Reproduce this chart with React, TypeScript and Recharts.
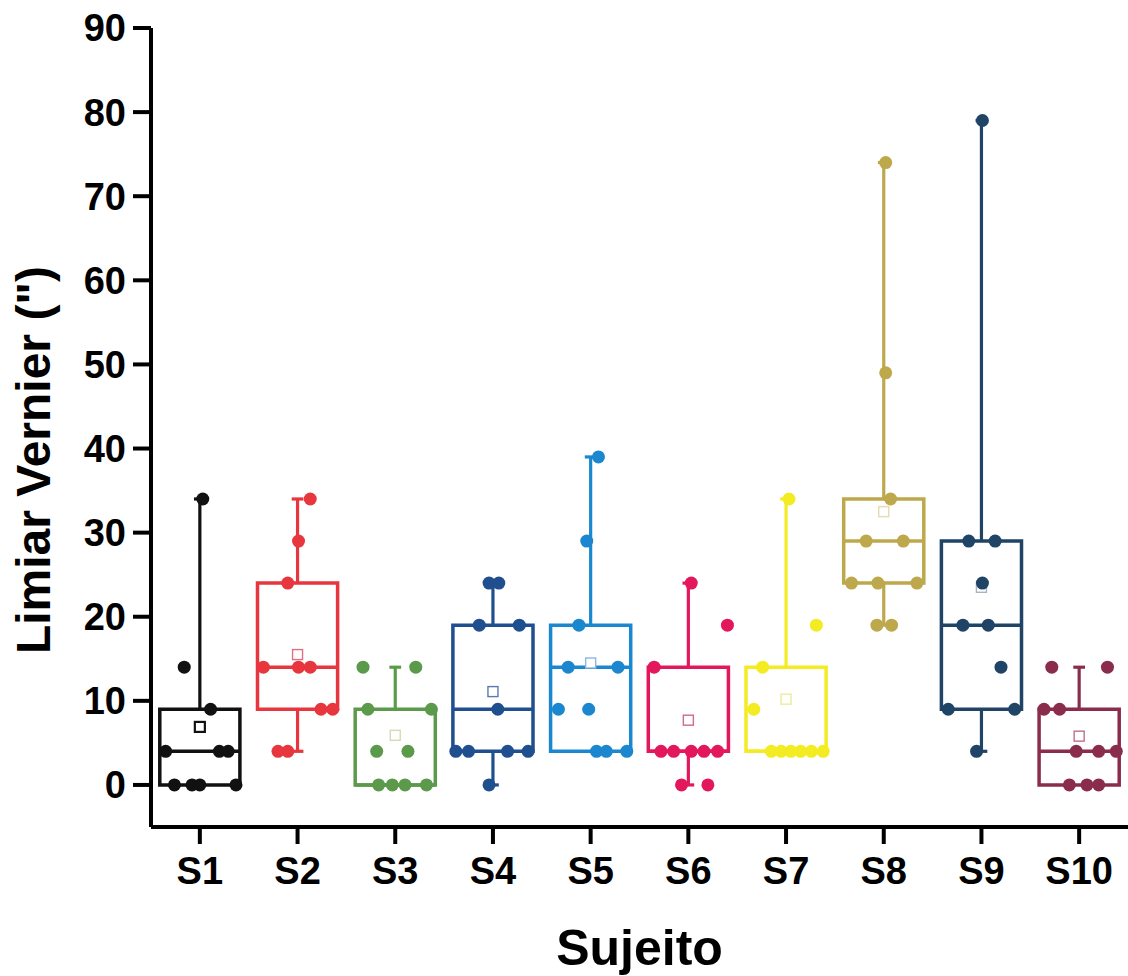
import React from "react";
import { ComposedChart, XAxis, YAxis, Scatter, ReferenceArea, ReferenceLine } from "recharts";

// sujeitos e limiares
const subjects = ["S1", "S2", "S3", "S4", "S5", "S6", "S7", "S8", "S9", "S10"];
const yTicks = [0, 10, 20, 30, 40, 50, 60, 70, 80, 90];

const s1Values = [34, 14, 9, 4, 4, 4, 0, 0, 0, 0];
const s1Jitter = [0.03, -0.16, 0.11, -0.35, 0.2, 0.29, -0.26, -0.08, 0.0, 0.37];
const s2Values = [34, 29, 24, 14, 14, 14, 9, 9, 4, 4];
const s2Jitter = [0.13, 0.01, -0.1, -0.35, 0.01, 0.13, 0.24, 0.36, -0.2, -0.1];
const s3Values = [14, 14, 9, 9, 4, 4, 0, 0, 0, 0];
const s3Jitter = [-0.33, 0.21, -0.28, 0.37, -0.19, 0.13, -0.17, -0.03, 0.1, 0.32];
const s4Values = [24, 24, 19, 19, 9, 4, 4, 4, 4, 0];
const s4Jitter = [-0.04, 0.06, -0.14, 0.27, 0.05, -0.38, -0.25, 0.15, 0.36, -0.04];
const s5Values = [39, 29, 19, 14, 14, 9, 9, 4, 4, 4];
const s5Jitter = [0.08, -0.04, -0.12, -0.23, 0.28, -0.33, -0.02, 0.06, 0.16, 0.37];
const s6Values = [24, 19, 14, 4, 4, 4, 4, 4, 0, 0];
const s6Jitter = [0.03, 0.4, -0.35, -0.28, -0.15, 0.03, 0.16, 0.3, -0.07, 0.2];
const s7Values = [34, 19, 14, 9, 4, 4, 4, 4, 4, 4];
const s7Jitter = [0.03, 0.31, -0.24, -0.33, -0.15, -0.05, 0.05, 0.15, 0.26, 0.38];
const s8Values = [74, 49, 34, 29, 29, 24, 24, 24, 19, 19];
const s8Jitter = [0.02, 0.02, 0.07, -0.18, 0.2, -0.33, -0.06, 0.34, -0.07, 0.08];
const s9Values = [79, 29, 29, 24, 19, 19, 14, 9, 9, 4];
const s9Jitter = [0.01, -0.13, 0.14, 0.01, -0.19, 0.07, 0.2, -0.34, 0.34, -0.05];
const s10Values = [14, 14, 9, 9, 4, 4, 4, 0, 0, 0];
const s10Jitter = [-0.28, 0.29, -0.36, -0.2, -0.03, 0.2, 0.38, -0.1, 0.08, 0.2];

// caixas: quartis, mediana, extremos e média
const q1 = [0, 9, 0, 4, 4, 4, 4, 24, 9, 0];
const medians = [4, 14, 0, 9, 14, 4, 4, 29, 19, 4];
const q3 = [9, 24, 9, 19, 19, 14, 14, 34, 29, 9];
const mins = [0, 4, 0, 0, 4, 0, 4, 19, 4, 0];
const maxs = [34, 34, 14, 24, 39, 24, 34, 74, 79, 14];
const means = [6.9, 15.5, 5.9, 11.1, 14.5, 7.7, 10.2, 32.5, 23.5, 5.8];

const allValues = [s1Values, s2Values, s3Values, s4Values, s5Values, s6Values, s7Values, s8Values, s9Values, s10Values];
const allJitter = [s1Jitter, s2Jitter, s3Jitter, s4Jitter, s5Jitter, s6Jitter, s7Jitter, s8Jitter, s9Jitter, s10Jitter];

const colors = ["#111111", "#e8363f", "#5b9a4a", "#1f4f8e", "#1b87cf", "#e3185c", "#f3ec22", "#bea84c", "#1f4466", "#8a2d4d"];
const meanColors = ["#111111", "#e07080", "#d4dab8", "#5b78b4", "#8ab8e0", "#d06a88", "#ecec9c", "#e6dcb0", "#a8b4c0", "#c07088"];

const BOX_HALF = 0.41;
const CAP_HALF = 0.06;
const FONT = "'Liberation Sans', Arial, Helvetica, sans-serif";

export default function App() {
  const meanData = means.map((m, i) => ({ x: i + 1, y: m, idx: i }));

  const boxes = subjects.flatMap((s, i) => {
    const c = i + 1;
    const color = colors[i];
    const items = [
      <ReferenceArea key={`box-${s}`} x1={c - BOX_HALF} x2={c + BOX_HALF} y1={q1[i]} y2={q3[i]}
        fill="#fff" fillOpacity={0} stroke={color} strokeWidth={3.5} ifOverflow="visible" />,
      <ReferenceLine key={`med-${s}`} segment={[{ x: c - BOX_HALF, y: medians[i] }, { x: c + BOX_HALF, y: medians[i] }]}
        stroke={color} strokeWidth={3.5} ifOverflow="visible" />,
    ];
    if (maxs[i] > q3[i]) {
      items.push(
        <ReferenceLine key={`wt-${s}`} segment={[{ x: c, y: q3[i] }, { x: c, y: maxs[i] }]} stroke={color} strokeWidth={3.2} ifOverflow="visible" />,
        <ReferenceLine key={`ct-${s}`} segment={[{ x: c - CAP_HALF, y: maxs[i] }, { x: c + CAP_HALF, y: maxs[i] }]} stroke={color} strokeWidth={3.2} ifOverflow="visible" />
      );
    }
    if (mins[i] < q1[i]) {
      items.push(
        <ReferenceLine key={`wb-${s}`} segment={[{ x: c, y: q1[i] }, { x: c, y: mins[i] }]} stroke={color} strokeWidth={3.2} ifOverflow="visible" />,
        <ReferenceLine key={`cb-${s}`} segment={[{ x: c - CAP_HALF, y: mins[i] }, { x: c + CAP_HALF, y: mins[i] }]} stroke={color} strokeWidth={3.2} ifOverflow="visible" />
      );
    }
    return items;
  });

  return (
    <div style={{ position: "absolute", left: 0, top: 0, width: 1128, height: 976, background: "#fff" }}>
      <ComposedChart width={1128} height={976} margin={{ top: 28, right: 0, bottom: 0, left: 0 }}>
        <XAxis
          type="number"
          dataKey="x"
          domain={[0.5, 10.5]}
          allowDataOverflow
          ticks={[1, 2, 3, 4, 5, 6, 7, 8, 9, 10]}
          interval={0}
          tickFormatter={(v: number) => subjects[v - 1]}
          height={149}
          axisLine={{ stroke: "#000", strokeWidth: 4 }}
          tickLine={{ stroke: "#000", strokeWidth: 4 }}
          tickSize={17}
          tickMargin={13}
          tick={{ fontSize: 38, fontWeight: 700, fill: "#000", fontFamily: FONT }}
          label={{ value: "Sujeito", position: "insideBottom", offset: 11, fontSize: 50, fontWeight: 700, fill: "#000", fontFamily: FONT }}
        />
        <YAxis
          type="number"
          dataKey="y"
          domain={[-5, 90]}
          allowDataOverflow
          ticks={yTicks}
          interval={0}
          width={151}
          axisLine={{ stroke: "#000", strokeWidth: 4 }}
          tickLine={{ stroke: "#000", strokeWidth: 4 }}
          tickSize={18}
          tickMargin={7}
          tick={{ fontSize: 38, fontWeight: 700, fill: "#000", fontFamily: FONT }}
          label={{
            content: () => (
              <text x={50} y={460} transform="rotate(-90 50 460)" textAnchor="middle"
                fontSize={48} fontWeight={700} fill="#000" fontFamily={FONT}>
                Limiar Vernier (")
              </text>
            ),
          }}
        />
        {boxes}
        <Scatter
          data={meanData}
          isAnimationActive={false}
          shape={(p: any) => (
            <rect x={p.cx - 5} y={p.cy - 5} width={10} height={10} fill="#fff"
              stroke={meanColors[p.payload.idx]} strokeWidth={p.payload.idx === 0 ? 2.2 : 1.4} />
          )}
        />
        {subjects.map((s, i) => (
          <Scatter
            key={`pts-${s}`}
            name={s}
            data={allValues[i].map((v, k) => ({ x: i + 1 + allJitter[i][k], y: v }))}
            isAnimationActive={false}
            shape={(p: any) => <circle cx={p.cx} cy={p.cy} r={6.5} fill={colors[i]} />}
          />
        ))}
      </ComposedChart>
    </div>
  );
}
